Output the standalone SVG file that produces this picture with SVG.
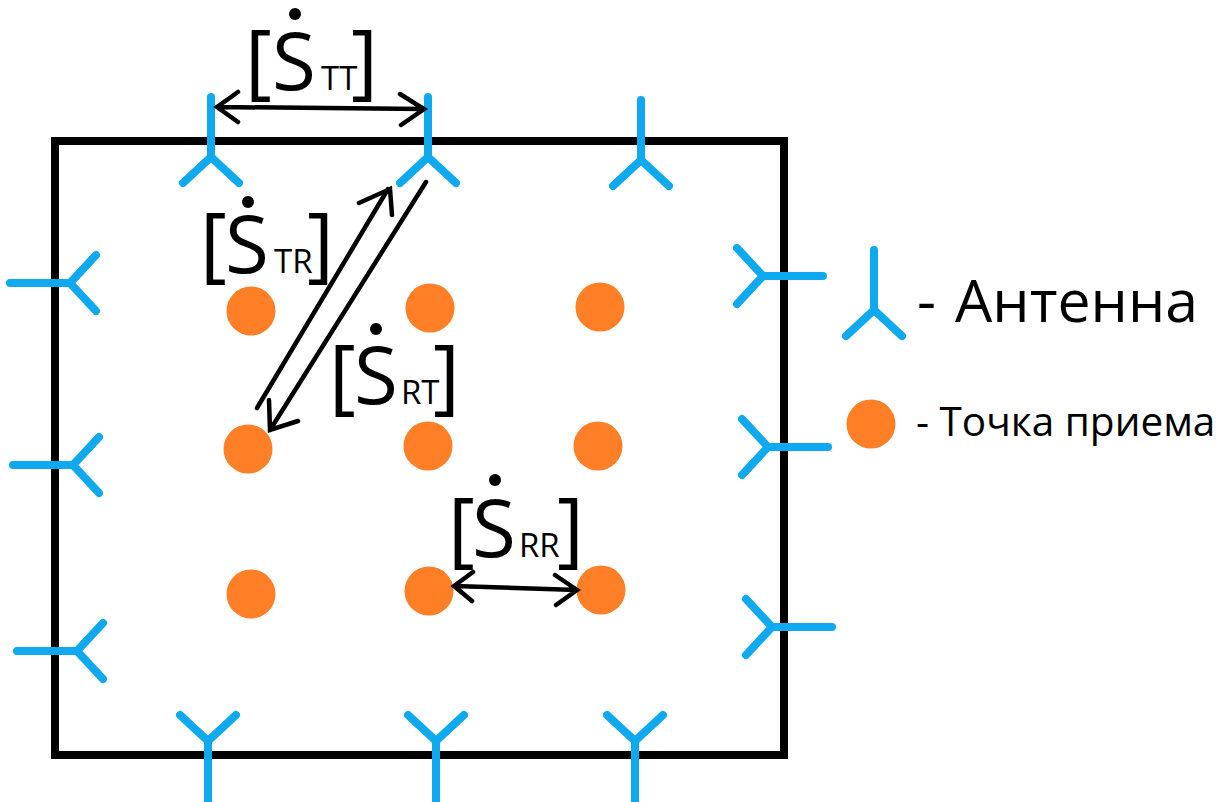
<svg xmlns="http://www.w3.org/2000/svg" xmlns:xlink="http://www.w3.org/1999/xlink" width="1228" height="802" viewBox="0 0 1228 802">
<style>
text{font-family:"Open Sans","Noto Sans","Liberation Sans",sans-serif;fill:#000}
.ant{fill:none;stroke:#0fa9f0;stroke-width:8;stroke-linecap:round;stroke-linejoin:round}
.rx{fill:#ff7f27}
.arr{fill:none;stroke:#000;stroke-width:4.5;stroke-linecap:round;stroke-linejoin:miter}
.big{font-size:80px}
.br{font-size:82px}
.sub{font-size:33px}
</style>
<defs>
<path id="a" class="ant" d="M0-60V0M-28 26L0 0L28 26"/>
<circle id="p" class="rx" r="24.5"/>
</defs>
<rect x="55" y="141" width="729" height="614" fill="none" stroke="#000" stroke-width="8"/>
<g id="ant-t1"><use xlink:href="#a" transform="translate(211 157)"/></g>
<g id="ant-t2"><use xlink:href="#a" transform="translate(428 157)"/></g>
<g id="ant-t3"><use xlink:href="#a" transform="translate(641 160)"/></g>
<g id="ant-l1"><use xlink:href="#a" transform="translate(70 283) rotate(-90)"/></g>
<g id="ant-l2"><use xlink:href="#a" transform="translate(73 465) rotate(-90)"/></g>
<g id="ant-l3"><use xlink:href="#a" transform="translate(77 651) rotate(-90)"/></g>
<g id="ant-r1"><use xlink:href="#a" transform="translate(763 276) rotate(90)"/></g>
<g id="ant-r2"><use xlink:href="#a" transform="translate(768 447) rotate(90)"/></g>
<g id="ant-r3"><use xlink:href="#a" transform="translate(772 627) rotate(90)"/></g>
<g id="ant-b1"><use xlink:href="#a" transform="translate(208 741) rotate(180)"/></g>
<g id="ant-b2"><use xlink:href="#a" transform="translate(436 741) rotate(180)"/></g>
<g id="ant-b3"><use xlink:href="#a" transform="translate(635 741) rotate(180)"/></g>
<g id="pt-1"><use xlink:href="#p" x="251" y="311"/></g>
<g id="pt-2"><use xlink:href="#p" x="430" y="308"/></g>
<g id="pt-3"><use xlink:href="#p" x="600" y="307"/></g>
<g id="pt-4"><use xlink:href="#p" x="248" y="449"/></g>
<g id="pt-5"><use xlink:href="#p" x="428" y="446"/></g>
<g id="pt-6"><use xlink:href="#p" x="598" y="446"/></g>
<g id="pt-7"><use xlink:href="#p" x="251" y="594"/></g>
<g id="pt-8"><use xlink:href="#p" x="429" y="591"/></g>
<g id="pt-9"><use xlink:href="#p" x="601" y="590"/></g>
<g id="connectors">
<path class="arr" d="M217 107L424 109M238 92L217 107L238 122M400 94L424 109L401 125"/>
<path class="arr" d="M257 408L388 189M359 203L390 189L392 215"/>
<path class="arr" d="M426 182L270 430M298 421L270 430L269 400"/>
<path class="arr" d="M454 586L577 590M473 572L454 586L472 601M555 575L577 590L556 605"/>
</g>
<g id="label-tt">
<circle cx="295" cy="14" r="6"/>
<text class="br" x="245" y="89">[</text><text class="big" x="272" y="90">S</text><text class="sub" x="321" y="90">TT</text><text class="br" x="351" y="89">]</text>
</g>
<g id="label-tr">
<circle cx="248" cy="202" r="6"/>
<text class="br" x="200" y="272">[</text><text class="big" x="225" y="273">S</text><text class="sub" x="274" y="273">TR</text><text class="br" x="307" y="272">]</text>
</g>
<g id="label-rt">
<circle cx="376" cy="329" r="6"/>
<text class="br" x="329" y="404">[</text><text class="big" x="354" y="404">S</text><text class="sub" x="401" y="404">RT</text><text class="br" x="433" y="404">]</text>
</g>
<g id="label-rr">
<circle cx="495" cy="480" r="6"/>
<text class="br" x="448" y="557">[</text><text class="big" x="472" y="557">S</text><text class="sub" x="519" y="557">RR</text><text class="br" x="557" y="557">]</text>
</g>
<g id="legend-antenna">
<use xlink:href="#a" transform="translate(874 310)"/>
<text y="322" font-size="59"><tspan x="917">-</tspan> <tspan x="955">Антенна</tspan></text>
</g>
<g id="legend-point">
<circle class="rx" cx="871" cy="424" r="24.5"/>
<text x="916" y="436" font-size="40.5">- Точка приема</text>
</g>
</svg>
